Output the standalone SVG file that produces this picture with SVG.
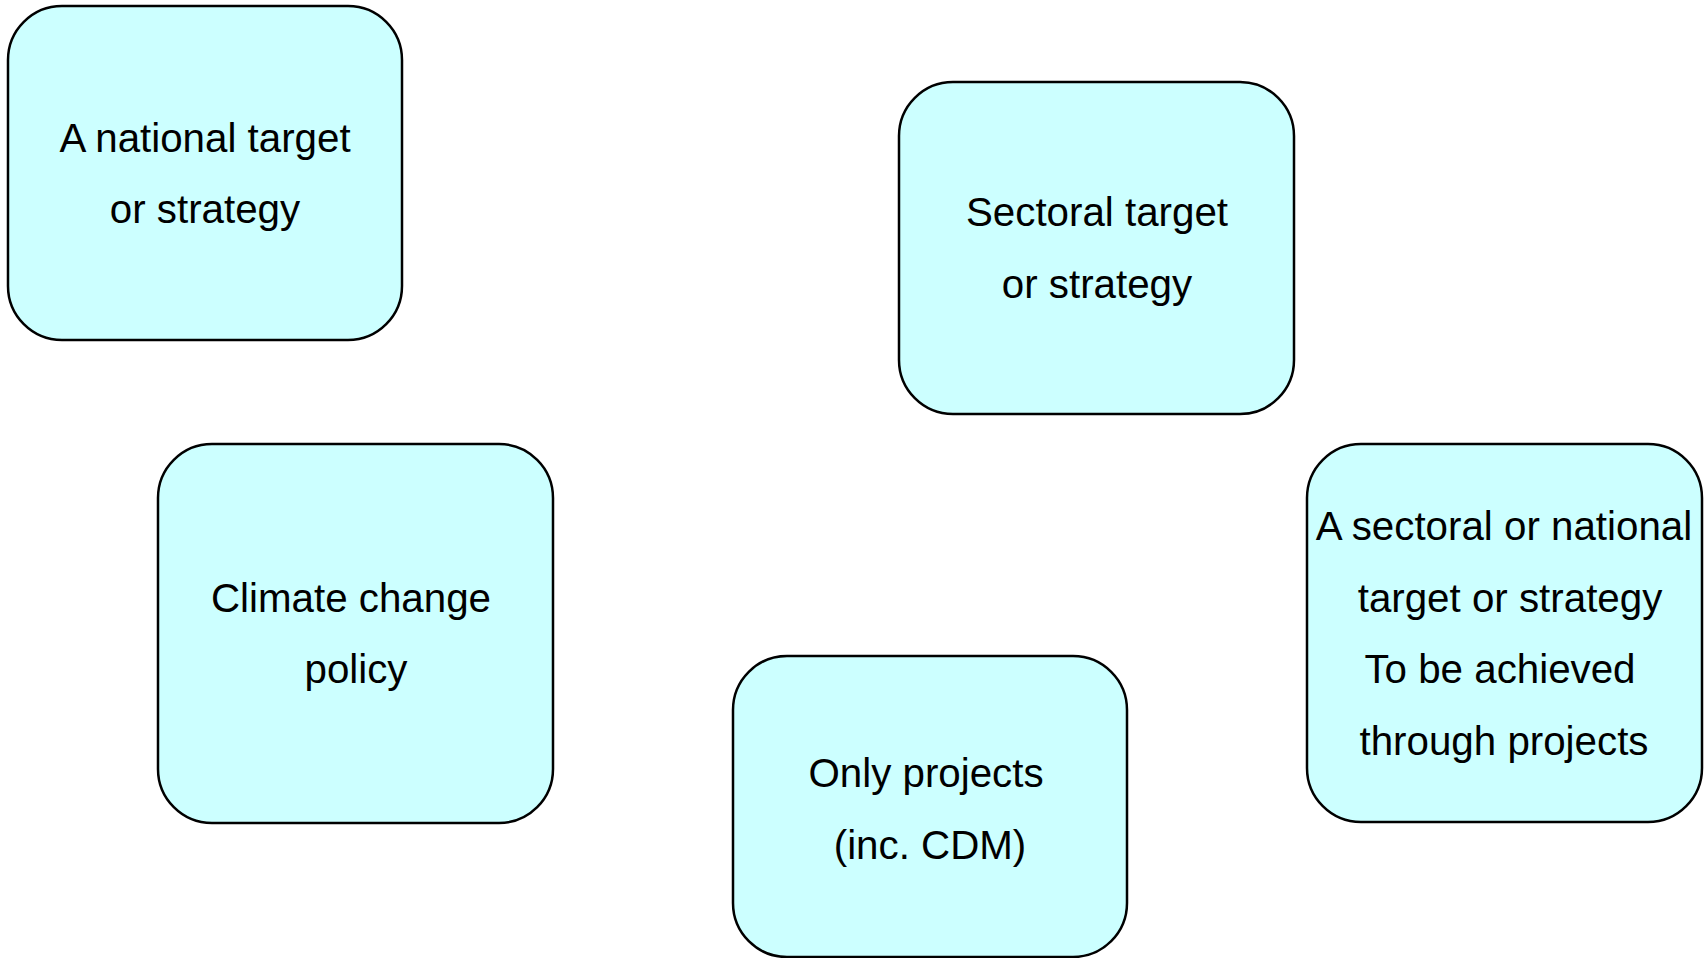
<svg xmlns="http://www.w3.org/2000/svg" width="1707" height="958" viewBox="0 0 1707 958">
<style>
.box{fill:#CCFFFF;stroke:#000;stroke-width:2.5}
.t{font-family:"Liberation Sans",Arial,sans-serif;font-size:40.3px;fill:#000;text-anchor:middle}
</style>
<rect width="1707" height="958" fill="#fff"/>
<g id="connectors"></g>
<g id="node-national">
<rect class="box" x="8" y="6" width="394" height="334" rx="54" ry="54"/>
<text class="t" x="205" y="152">A national target</text>
<text class="t" x="205" y="223">or strategy</text>
</g>
<g id="node-sectoral">
<rect class="box" x="899" y="82" width="395" height="332" rx="54" ry="54"/>
<text class="t" x="1097" y="226">Sectoral target</text>
<text class="t" x="1097" y="298">or strategy</text>
</g>
<g id="node-climate">
<rect class="box" x="158" y="444" width="395" height="379" rx="54" ry="54"/>
<text class="t" x="351" y="612">Climate change</text>
<text class="t" x="356" y="683">policy</text>
</g>
<g id="node-projects">
<rect class="box" x="733" y="656" width="394" height="301" rx="54" ry="54"/>
<text class="t" x="926" y="787">Only projects</text>
<text class="t" x="930" y="859">(inc. CDM)</text>
</g>
<g id="node-sectoral-national">
<rect class="box" x="1307" y="444" width="395" height="378" rx="54" ry="54"/>
<text class="t" x="1504" y="540">A sectoral or national</text>
<text class="t" x="1510" y="612">target or strategy</text>
<text class="t" x="1500" y="683">To be achieved</text>
<text class="t" x="1504" y="755">through projects</text>
</g>
</svg>
